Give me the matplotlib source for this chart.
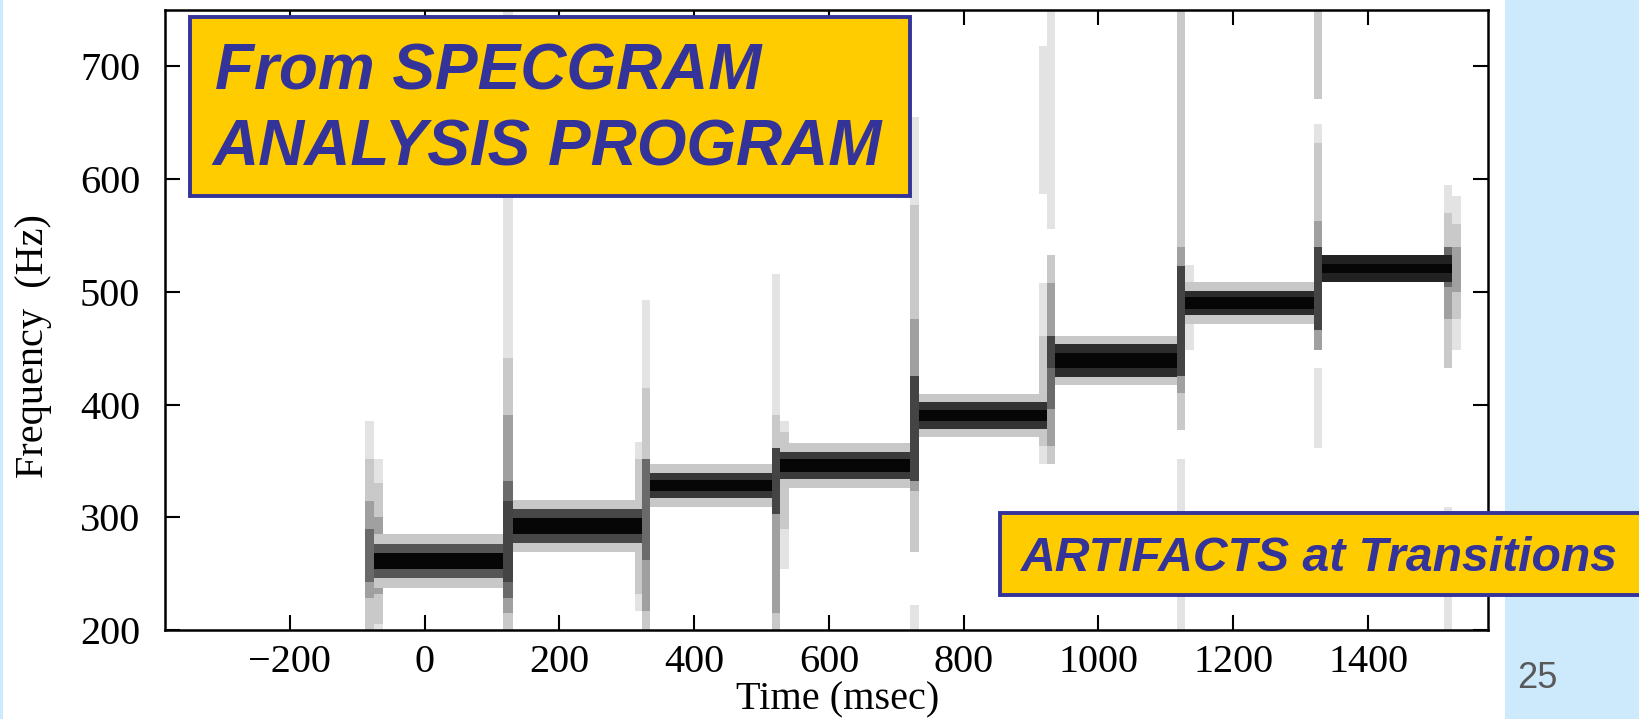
import matplotlib.pyplot as plt
from matplotlib.patches import Rectangle

# notes of the scale (Hz, msec)
note_freq = [261, 292, 328, 346, 390, 439, 490, 521]
note_on = [-75, 131, 335, 528, 734, 935, 1128, 1332]
note_off = [117, 323, 516, 721, 923, 1116, 1320, 1525]
core_hw = [7, 7, 5, 6, 5, 7, 5, 4]
mid_hw = [15, 15, 11, 12, 12, 15, 11, 12]
outer_hw = [24, 23, 19, 20, 19, 22, 19, 12]
mid_grey = ['#555555', '#474747', '#363636', '#3a3a3a', '#333333', '#2c2c2c', '#2c2c2c', '#222222']

# artifact smears at the transitions: (t0, t1, f0, f1, level)
artifacts = [
    (-88, -75, 200, 385, 0), (-88, -75, 200, 352, 1), (-88, -75, 228, 314, 2), (-88, -75, 243, 290, 3),
    (-75, -62, 200, 352, 0), (-75, -62, 205, 330, 1), (-75, -62, 232, 300, 2),
    (117, 131, 200, 750, 0), (117, 131, 200, 441, 1), (117, 131, 215, 391, 2), (117, 131, 228, 332, 3),
    (117, 131, 243, 314, 4),
    (312, 323, 217, 367, 0), (312, 323, 232, 352, 1), (312, 323, 273, 303, 2),
    (323, 335, 200, 493, 0), (323, 335, 200, 415, 1), (323, 335, 217, 352, 2), (323, 335, 262, 352, 3),
    (516, 528, 200, 516, 0), (516, 528, 200, 391, 1), (516, 528, 215, 361, 2), (516, 528, 303, 361, 4),
    (528, 541, 254, 385, 0), (528, 541, 290, 376, 1),
    (721, 734, 200, 222, 0), (721, 734, 269, 655, 0), (721, 734, 269, 577, 1), (721, 734, 323, 476, 2),
    (721, 734, 332, 425, 4),
    (912, 923, 587, 718, 0), (912, 923, 347, 508, 0), (912, 923, 363, 461, 1),
    (923, 935, 556, 750, 0), (923, 935, 347, 533, 1), (923, 935, 363, 508, 2), (923, 935, 396, 461, 3),
    (923, 935, 432, 461, 4),
    (1116, 1128, 200, 352, 0), (1116, 1128, 377, 750, 1), (1116, 1128, 410, 540, 2), (1116, 1128, 425, 523, 4),
    (1128, 1141, 448, 524, 0),
    (1320, 1332, 361, 432, 0), (1320, 1332, 671, 750, 1), (1320, 1332, 448, 649, 0), (1320, 1332, 448, 632, 1),
    (1320, 1332, 448, 563, 2), (1320, 1332, 466, 540, 4),
    (1513, 1525, 200, 309, 0), (1513, 1525, 432, 595, 0), (1513, 1525, 432, 570, 1), (1513, 1525, 476, 540, 2),
    (1513, 1525, 504, 540, 3),
    (1525, 1538, 448, 585, 0), (1525, 1538, 476, 560, 1), (1525, 1538, 500, 540, 2),
]
level_grey = ['#e3e3e3', '#c9c9c9', '#a0a0a0', '#6a6a6a', '#444444']

x_ticks = [-200, 0, 200, 400, 600, 800, 1000, 1200, 1400]
y_ticks = [200, 300, 400, 500, 600, 700]

plt.rcParams['font.family'] = 'Liberation Serif'
plt.rcParams['axes.unicode_minus'] = True

fig = plt.figure(figsize=(16.39, 7.19), dpi=100)
fig.patch.set_facecolor('white')

# slide background strips
fig.add_artist(Rectangle((0.9183, 0), 0.1, 1, transform=fig.transFigure,
                         facecolor='#cdeafc', edgecolor='none', zorder=-1))
fig.add_artist(Rectangle((0, 0), 3 / 1639, 1, transform=fig.transFigure,
                         facecolor='#cdeafc', edgecolor='none', zorder=-1))

ax = fig.add_axes([0.1007, 0.1238, 0.8072, 0.8623])

# transition artifacts first, notes on top
for t0, t1, f0, f1, lev in artifacts:
    ax.bar(t0, f1 - f0, width=t1 - t0, bottom=f0, align='edge',
           color=level_grey[lev], linewidth=0, zorder=1)

for i in range(len(note_freq)):
    f = note_freq[i]
    w = note_off[i] - note_on[i]
    for hw, col in [(outer_hw[i], '#c8c8c8'), (mid_hw[i], mid_grey[i]), (core_hw[i], '#060606')]:
        ax.bar(note_on[i], 2 * hw, width=w, bottom=f - hw, align='edge',
               color=col, linewidth=0, zorder=2)

ax.set_xlim(-385, 1578)
ax.set_ylim(200, 750)
ax.set_xticks(x_ticks)
ax.set_yticks(y_ticks)
ax.tick_params(direction='in', length=11, width=1.5, top=True, right=True, labelsize=29)
ax.tick_params(axis='x', pad=10)
ax.tick_params(axis='y', pad=18)
for s in ax.spines.values():
    s.set_linewidth(1.8)

ax.set_xlabel('Time (msec)', fontsize=29)
ax.xaxis.label.set_va('center')
ax.xaxis.set_label_coords(0.508, -0.113)
ax.set_ylabel('Frequency  (Hz)', fontsize=29)
ax.yaxis.label.set_va('center')
ax.yaxis.set_label_coords(-0.0998, 0.458)

# annotation boxes
blue = '#333399'
fig.add_artist(Rectangle((0.1159, 0.7274), 0.4393, 0.249, transform=fig.transFigure,
                         facecolor='#ffcc00', edgecolor=blue, linewidth=2.8, zorder=5))
fig.text(215 / 1639, 1 - 89 / 719, 'From SPECGRAM', fontsize=46, fontweight='bold',
         fontstyle='italic', color=blue, family='Liberation Sans', va='baseline', zorder=6)
fig.text(212 / 1639, 1 - 166 / 719, 'ANALYSIS PROGRAM', fontsize=46, fontweight='bold',
         fontstyle='italic', color=blue, family='Liberation Sans', va='baseline', zorder=6)

fig.add_artist(Rectangle((0.6101, 0.1725), 0.41, 0.114, transform=fig.transFigure,
                         facecolor='#ffcc00', edgecolor=blue, linewidth=2.8, zorder=5))
fig.text(1021 / 1639, 1 - 571 / 719, 'ARTIFACTS at Transitions', fontsize=34.7, fontweight='bold',
         fontstyle='italic', color=blue, family='Liberation Sans', va='baseline', zorder=6)

fig.text(1537 / 1639, 1 - 678 / 719, '25', fontsize=26, color='#595959',
         family='Liberation Sans', ha='center', va='center')

fig.savefig('out.png', dpi=100)
